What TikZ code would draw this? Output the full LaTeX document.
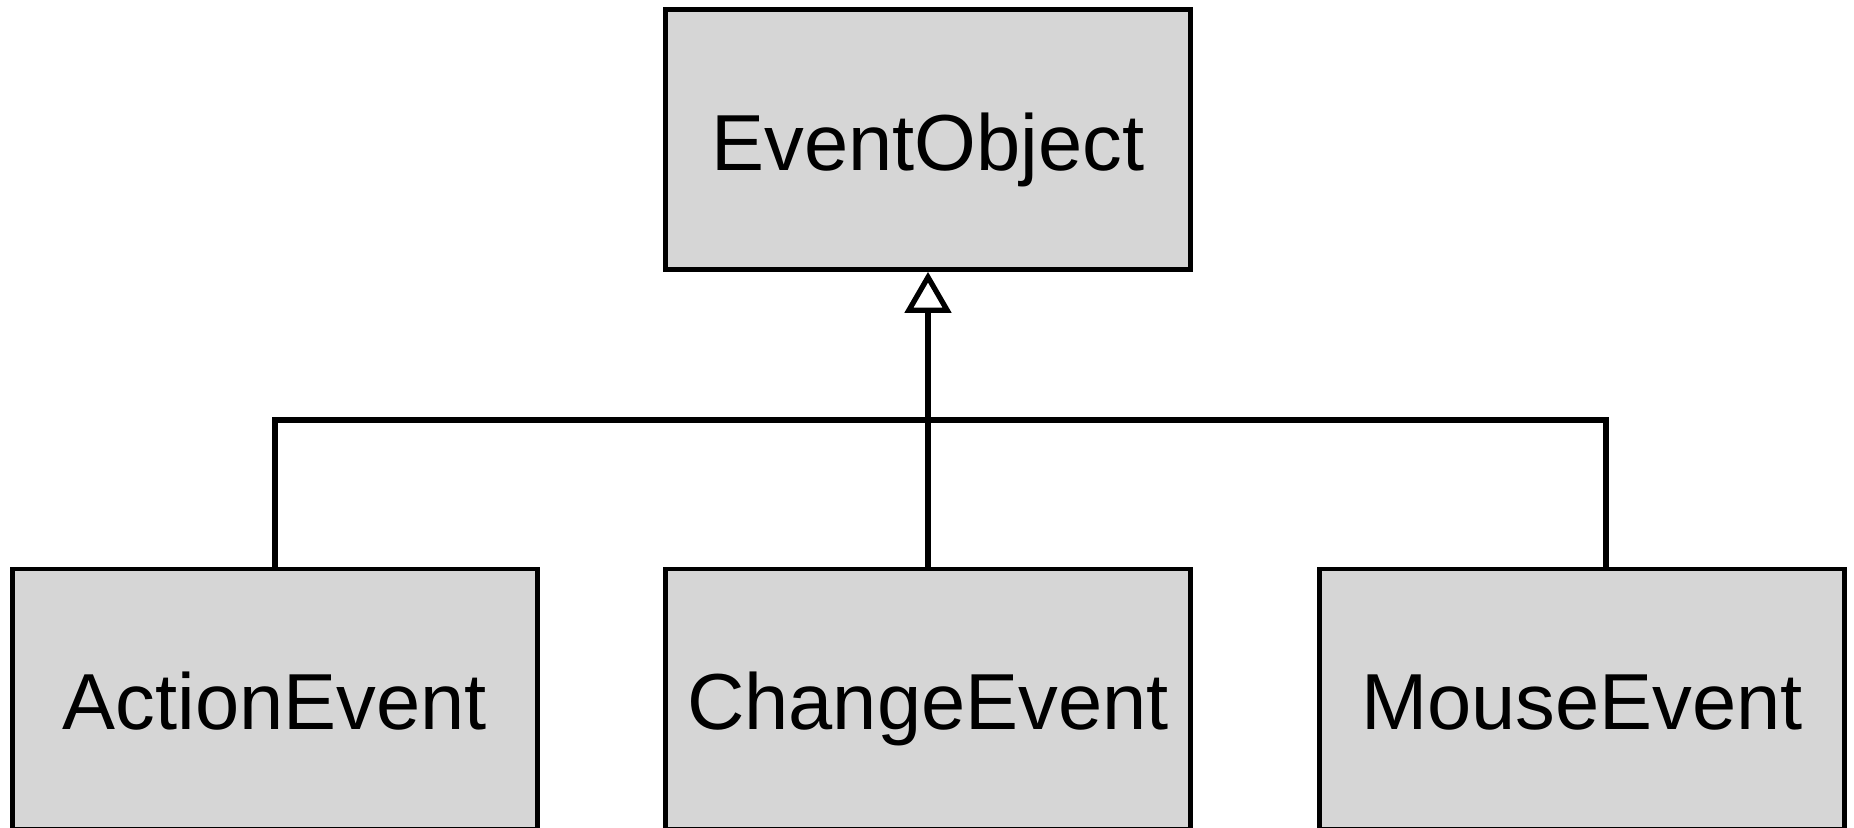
\documentclass[tikz,border=0pt]{standalone}
\usepackage{fontspec}
\setmainfont{Liberation Sans}
\usepackage{xcolor}
\usetikzlibrary{arrows.meta, positioning}
\definecolor{boxfill}{HTML}{D6D6D6}
\definecolor{boxline}{HTML}{000000}
\tikzset{
  cls/.style={
    draw=boxline, fill=boxfill, line width=1.3pt,
    minimum width=5.25cm, minimum height=2.6cm, inner sep=0pt,
    text height=0.8cm, text depth=0.19cm,
    font=\fontsize{22.6}{27}\selectfont,
  },
  inherit/.style={-{Triangle[open, length=0.41cm, width=0.46cm]}, line width=1.5pt, black},
  bus/.style={line width=1.5pt, black},
}

\begin{document}
\begin{tikzpicture}[x=0.01cm, y=-0.01cm]

% ── frame (reference margins) ───────────────────────────────────
\useasboundingbox (0,0) rectangle (1854,828);
\clip (0,0) rectangle (1854,828);

% ── superclass ──────────────────────────────────────────────────
\node[cls] (eventobj) at (928, 139.5) {EventObject};

% ── subclasses (run past the bottom edge) ───────────────────────
\node[cls] (action) at (275, 699) {ActionEvent};
\node[cls] (change) at (928, 699) {ChangeEvent};
\node[cls] (mouse)  at (1582, 699) {MouseEvent};

% ── generalization ──────────────────────────────────────────────
\coordinate (busR) at (1606, 420);
\draw[inherit] (change.north) -- (eventobj.south);
\draw[bus] (action.north) |- (busR) -- (busR |- mouse.north);

\end{tikzpicture}
\end{document}
